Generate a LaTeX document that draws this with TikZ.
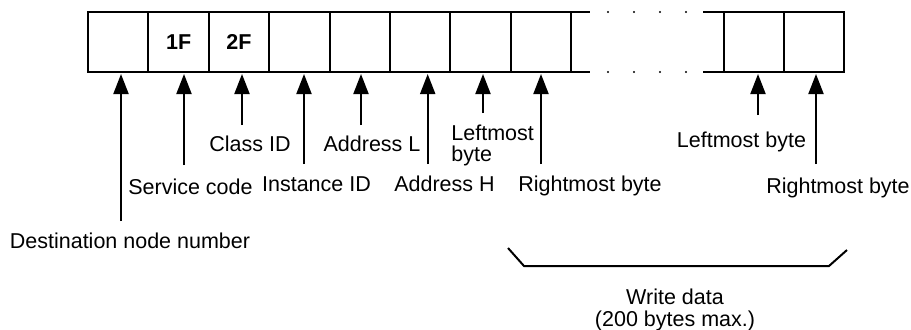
\documentclass[tikz,border=0pt]{standalone}
\usepackage{fontspec}
\setmainfont{Liberation Sans}
\usetikzlibrary{arrows.meta}

\begin{document}
\begin{tikzpicture}[
    x=0.5pt, y=-0.5pt,
    every node/.style={font=\fontsize{10.75}{12.5}\selectfont},
    cell/.style={draw, line width=1pt, minimum width=30.2pt, minimum height=30pt, inner sep=0pt, outer sep=0pt, font=\fontsize{10.75}{12.5}\selectfont\bfseries},
    frame/.style={line width=1pt},
    pointer/.style={-{Triangle[width=7.5pt,length=10pt]}, line width=1pt, shorten >=1pt},
    tag/.style={inner sep=0pt, anchor=base}
]
\useasboundingbox (0,0) rectangle (911,329);

% frame cells
\node[cell] (c1) at (118.2,42) {};
\node[cell] (c2) at (178.6,42) {1F};
\node[cell] (c3) at (239.0,42) {2F};
\node[cell] (c4) at (299.4,42) {};
\node[cell] (c5) at (359.8,42) {};
\node[cell] (c6) at (420.2,42) {};
\node[cell] (c7) at (480.6,42) {};
\node[cell] (c8) at (541.0,42) {};
\node[cell] (r1) at (753.7,42) {};
\node[cell] (r2) at (814.1,42) {};

% open ends and the gap
\coordinate (gapTopL) at (590,12);
\coordinate (gapBotL) at (590,72);
\coordinate (gapTopR) at (703,12);
\coordinate (gapBotR) at (703,72);
\draw[frame] (c8.north east) -- (gapTopL);
\draw[frame] (c8.south east) -- (gapBotL);
\draw[frame] (gapTopR) -- (r1.north west);
\draw[frame] (gapBotR) -- (r1.south west);
\fill (608,12) circle (1.2) (634,12) circle (1.2) (660,12) circle (1.2) (686,12) circle (1.2);
\fill (608,72) circle (1.2) (634,72) circle (1.2) (660,72) circle (1.2) (686,72) circle (1.2);

% labels
\node[tag] (lDest) at (130,248) {Destination node number};
\node[tag] (lServ) at (190.5,194) {Service code};
\node[tag] (lClass) at (250,151.5) {Class ID};
\node[tag] (lInst) at (316.5,191.5) {Instance ID};
\node[tag] (lAddrL) at (372,151) {Address L};
\node[tag] (lAddrH) at (444.5,191.5) {Address H};
\node[tag, anchor=base west, align=left, font=\fontsize{10.75}{10.3}\selectfont] (lLeft) at (451,161) {Leftmost\\byte};
\node[tag] (lRight) at (590,191) {Rightmost byte};
\node[tag] (lLeftEnd) at (741.5,147) {Leftmost byte};
\node[tag] (lRightEnd) at (838,193) {Rightmost byte};
\node[tag, align=center, font=\fontsize{10.75}{11}\selectfont] (lWrite) at (675,326) {Write data\\(200 bytes max.)};

% pointer tails
\coordinate (tDest) at (121,221);
\coordinate (tServ) at (184,165);
\coordinate (tClass) at (242,125);
\coordinate (tInst) at (304,164);
\coordinate (tAddrL) at (361,125);
\coordinate (tAddrH) at (427.7,164);
\coordinate (tLeft) at (483,113);
\coordinate (tRight) at (541,164);
\coordinate (tLeftEnd) at (758,115);
\coordinate (tRightEnd) at (816,164);

\draw[pointer] (tDest) -- (tDest |- c1.south);
\draw[pointer] (tServ) -- (tServ |- c2.south);
\draw[pointer] (tClass) -- (tClass |- c3.south);
\draw[pointer] (tInst) -- (tInst |- c4.south);
\draw[pointer] (tAddrL) -- (tAddrL |- c5.south);
\draw[pointer] (tAddrH) -- (tAddrH |- c6.south);
\draw[pointer] (tLeft) -- (tLeft |- c7.south);
\draw[pointer] (tRight) -- (tRight |- c8.south);
\draw[pointer] (tLeftEnd) -- (tLeftEnd |- r1.south);
\draw[pointer] (tRightEnd) -- (tRightEnd |- r2.south);

% write data bracket
\draw[frame] (508,248) -- (524,266) -- (829,266) -- (847,250);
\end{tikzpicture}
\end{document}
